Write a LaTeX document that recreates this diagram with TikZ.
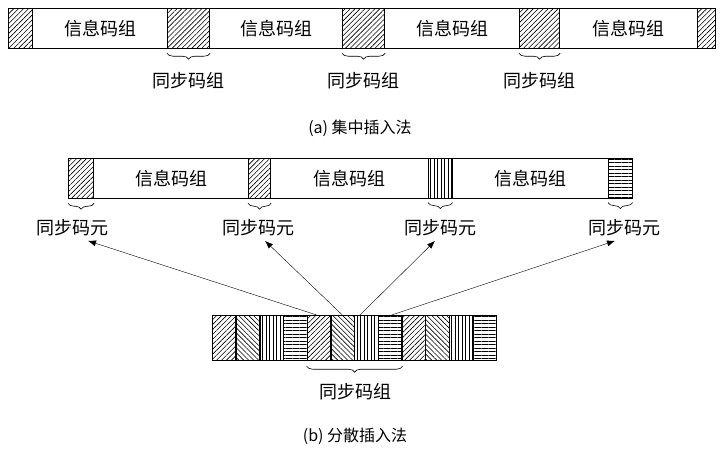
\documentclass[tikz,border=0pt]{standalone}
\usepackage{fontspec}
\newfontfamily\cjk{Noto Sans CJK SC}
\usetikzlibrary{patterns.meta, decorations.pathreplacing, arrows.meta, positioning}
\begin{document}
\begin{tikzpicture}[x=1pt, y=-1pt, font=\cjk\fontsize{18}{20}\selectfont]
    % Styles
    \tikzset{
        cell/.style = {draw, line width=1.2pt, inner sep=0pt, anchor=north west},
        ne/.style = {pattern={Lines[angle=45, distance=3.5pt, line width=0.6pt]}},
        nw/.style = {pattern={Lines[angle=-45, distance=3.5pt, line width=0.6pt]}},
        vl/.style = {pattern={Lines[angle=90, distance=3.5pt, line width=0.6pt]}},
        hl/.style = {pattern={Lines[angle=0, distance=3.5pt, line width=0.6pt]}},
        lbrace/.style = {decorate, decoration={brace, mirror, amplitude=6pt}, semithick}
    }
    \useasboundingbox (0,0) rectangle (723,453);
    % (a) top bar
    \foreach \n/\x/\w in {s1/8/24, s2/167/42, s3/342/42, s4/519/40, s5/697/18}
        \node[cell, ne, minimum width=\w pt, minimum height=40pt] (\n) at (\x,8) {};
    \foreach \n/\x/\w in {i1/32/135, i2/209/133, i3/384/135, i4/559/138}
        \node[cell, minimum width=\w pt, minimum height=40pt] (\n) at (\x,8) {信息码组};
    \foreach \n in {s2, s3, s4} {
        \draw[lbrace] ([yshift=-4pt]\n.south west) -- ([yshift=-4pt]\n.south east);
        \node[below=20pt of \n] (t\n) {同步码组};
    }
    \node (capa) at (360,128) {\fontsize{16}{18}\selectfont (a)\ 集中插入法};
    % (b) middle bar
    \node[cell, ne, minimum width=25pt, minimum height=40pt] (m1) at (68,158) {};
    \node[cell, minimum width=155pt, minimum height=40pt] (j1) at (93,158) {信息码组};
    \node[cell, ne, minimum width=22pt, minimum height=40pt] (m2) at (248,158) {};
    \node[cell, minimum width=158pt, minimum height=40pt] (j2) at (270,158) {信息码组};
    \node[cell, vl, minimum width=24pt, minimum height=40pt] (m3) at (428,158) {};
    \node[cell, minimum width=156pt, minimum height=40pt] (j3) at (452,158) {信息码组};
    \node[cell, hl, minimum width=24pt, minimum height=40pt] (m4) at (608,158) {};
    \foreach \n in {m1, m2, m3, m4}
        \draw[lbrace] ([yshift=-4pt]\n.south west) -- ([yshift=-4pt]\n.south east);
    \node (l1) at (72,228) {同步码元};
    \node (l2) at (258,228) {同步码元};
    \node (l3) at (440,228) {同步码元};
    \node (l4) at (624,228) {同步码元};
    % bottom bar
    \foreach \k/\p in {1/ne, 2/nw, 3/vl, 4/hl, 5/ne, 6/nw, 7/vl, 8/hl, 9/ne, 10/nw, 11/vl, 12/hl}
        \node[cell, \p, minimum width=23.67pt, minimum height=45pt] (b\k) at ({212+(\k-1)*23.67},315) {};
    \draw[lbrace] ([yshift=-5pt]b5.south west) -- ([yshift=-5pt]b8.south east);
    \node (tb) at (355,392) {同步码组};
    \node (capb) at (355,436) {\fontsize{16}{18}\selectfont (b)\ 分散插入法};
    % Connections
    \draw[-{Latex[length=8pt]}] ([xshift=10pt]b5.north west) -- ([xshift=16pt, yshift=-1pt]l1.south);
    \draw[-{Latex[length=8pt]}] ([xshift=12pt]b6.north west) -- ([xshift=7pt, yshift=-1pt]l2.south);
    \draw[-{Latex[length=8pt]}] ([xshift=6pt]b7.north west) -- ([xshift=-5pt, yshift=-1pt]l3.south);
    \draw[-{Latex[length=8pt]}] ([xshift=14pt]b8.north west) -- ([xshift=-9pt, yshift=-1pt]l4.south);
\end{tikzpicture}
\end{document}
